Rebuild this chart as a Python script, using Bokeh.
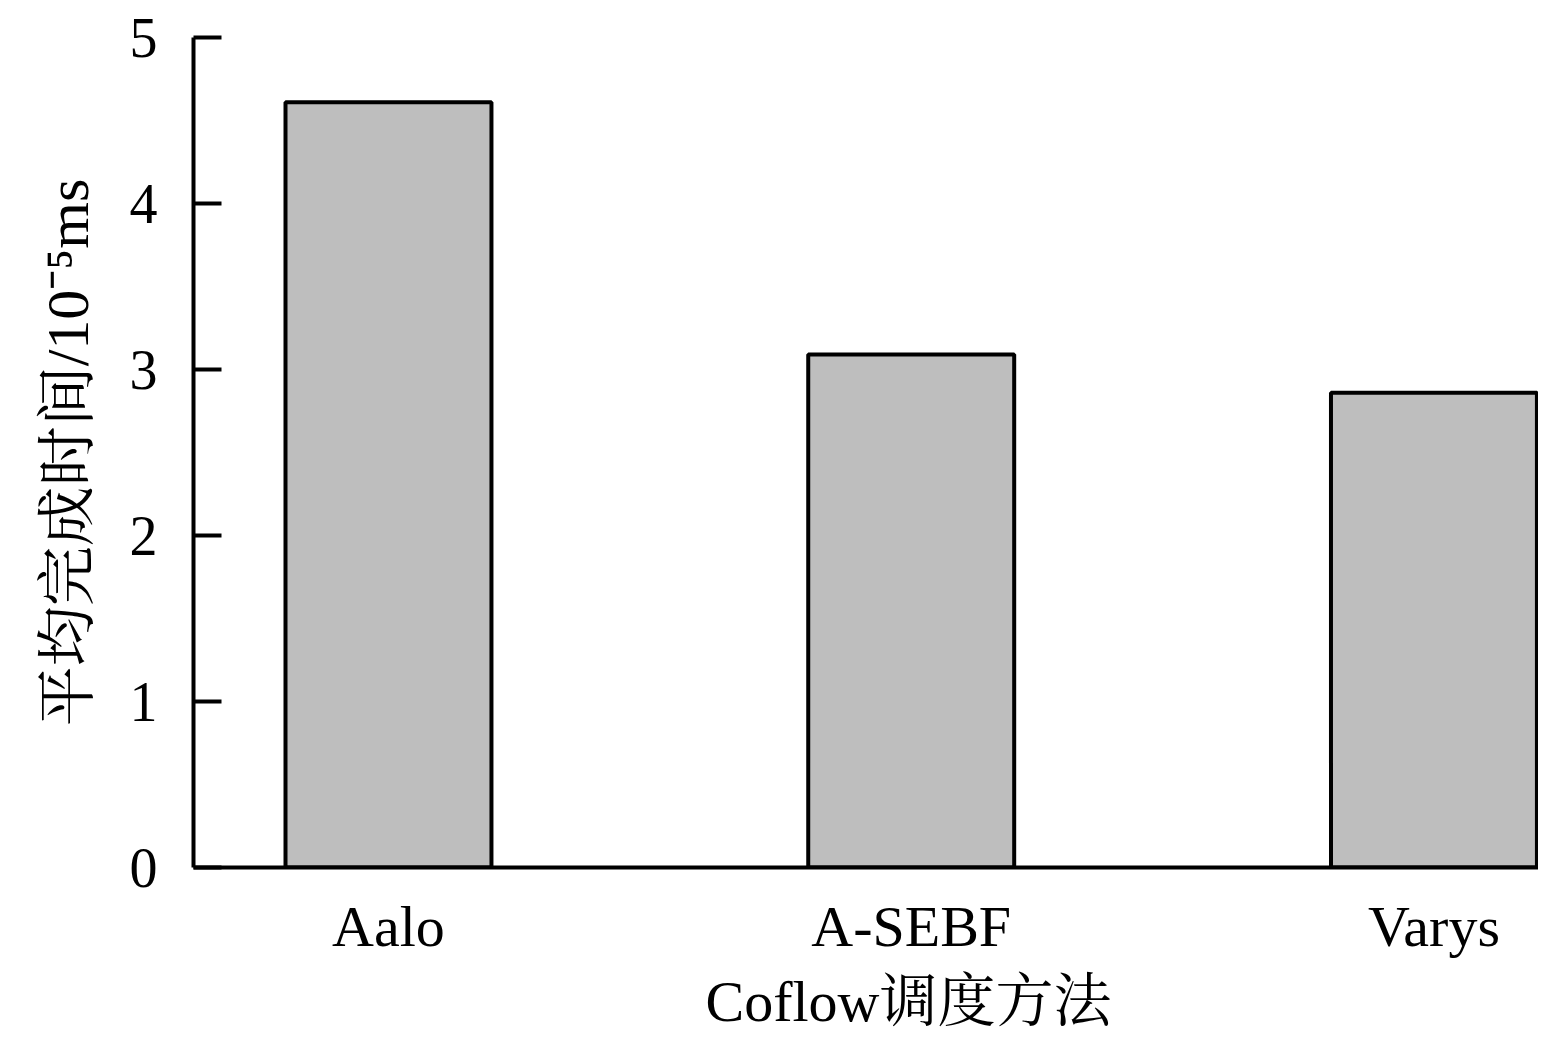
from bokeh.plotting import figure
from bokeh.models import Range1d, FixedTicker, Title
from bokeh.embed import file_html
from bokeh.resources import INLINE

categories = ["Aalo", "A-SEBF", "Varys"]
values = [4.61, 3.09, 2.86]
y_ticks = [0, 1, 2, 3, 4, 5]
x_title = "Coflow调度方法"
y_title = "平均完成时间/10⁻⁵ms"

FONT = "'Liberation Serif', 'Noto Serif CJK SC', 'Noto Sans CJK SC', serif"

xs = list(range(len(categories)))

p = figure(width=1538, height=1040, output_backend="svg", toolbar_location=None,
           x_range=Range1d(-0.373, 2.2), y_range=Range1d(0, 5),
           min_border_left=193, min_border_top=37, min_border_right=0, min_border_bottom=173)
p.outline_line_color = None
p.xgrid.visible = False
p.ygrid.visible = False
p.background_fill_color = "white"

p.vbar(x=xs, top=values, bottom=0, width=0.394, fill_color="#bebebe",
       line_color="black", line_width=4)

for ax in (p.xaxis[0], p.yaxis[0]):
    ax.axis_line_width = 4
    ax.axis_line_color = "black"
    ax.major_label_text_font = FONT
    ax.axis_label_text_font = FONT
    ax.major_label_text_color = "black"
    ax.axis_label_text_color = "black"
    ax.axis_label_text_font_style = "normal"
    ax.minor_tick_line_color = None
    ax.axis_label_text_font_size = "60px"

p.yaxis.ticker = FixedTicker(ticks=y_ticks)
p.yaxis.major_label_text_font_size = "56px"
p.yaxis.major_tick_in = 28
p.yaxis.major_tick_out = 0
p.yaxis.major_tick_line_width = 4
p.yaxis.major_label_standoff = 36
p.yaxis.axis_label = y_title
p.yaxis.axis_label_standoff = 26

p.xaxis.ticker = FixedTicker(ticks=xs)
p.xaxis.major_label_overrides = {i: c for i, c in zip(xs, categories)}
p.xaxis.major_label_text_font_size = "58px"
p.xaxis.major_tick_in = 0
p.xaxis.major_tick_out = 0
p.xaxis.major_tick_line_color = None
p.xaxis.major_label_standoff = 26

# x-axis title, centred under the middle category as in the original
p.add_layout(Title(text=x_title, align="left", offset=512, standoff=10,
                   text_font=FONT, text_font_size="58px", text_color="black",
                   text_font_style="normal"), "below")

open("out.html", "w").write(file_html(p, INLINE))
